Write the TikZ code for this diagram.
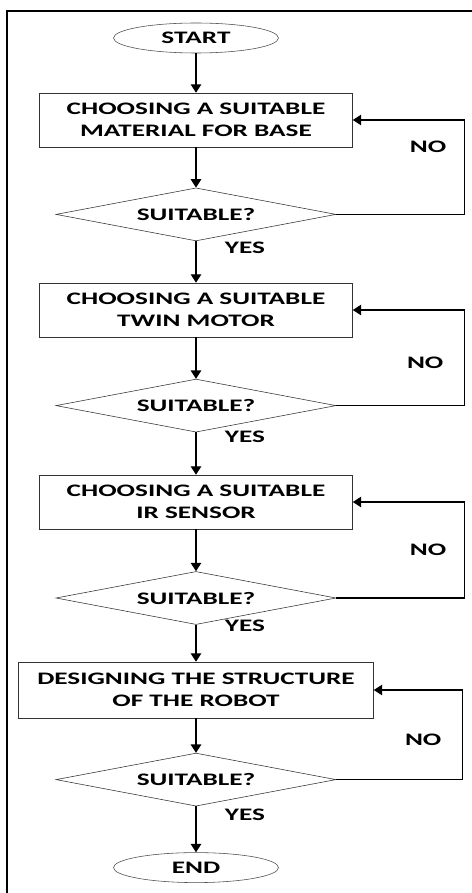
\documentclass[tikz,border=0pt]{standalone}
\usepackage{fontspec}
\setmainfont{Carlito}[FakeStretch=1.55]
\usetikzlibrary{shapes.geometric,arrows.meta}

\begin{document}
\begin{tikzpicture}[every node/.style={font=\bfseries\fontsize{12.5}{15.4}\selectfont}]
      \tikzset{terminal/.style={draw=black!70, ellipse, minimum width=4.125cm, minimum height=.75cm, inner sep=0pt},
               process/.style={draw=black!80, rectangle, minimum width=7.825cm, minimum height=1.35cm, align=center, inner sep=0pt},
               decision/.style={draw=black!80, diamond, aspect=5.28, minimum width=7cm, minimum height=1.325cm, inner sep=0pt},
               flow/.style={->, >={Triangle[width=7.5pt,length=6pt]}, line width=.9pt}}
%% Frame
      	\useasboundingbox (0,0) rectangle (11.775,-22.325);
      	\draw[line width=1.5pt] (0.175,-22.5) -- (0.175,-0.275) -- (12,-0.275);
%% Steps
      	\node[terminal] (start) at (4.9,-0.95) {START};
      	\node[process] (base) at (4.9,-3.0) {CHOOSING A SUITABLE\\MATERIAL FOR BASE};
      	\node[decision] (chk1) at (4.9,-5.36) {SUITABLE?};
      	\node[process] (motor) at (4.9,-7.75) {CHOOSING A SUITABLE\\TWIN MOTOR};
      	\node[decision] (chk2) at (4.9,-10.14) {SUITABLE?};
      	\node[process] (sensor) at (4.9,-12.55) {CHOOSING A SUITABLE\\IR SENSOR};
      	\node[decision] (chk3) at (4.9,-14.95) {SUITABLE?};
      	\node[process, minimum width=8.875cm, minimum height=1.4cm] (robot) at (4.9,-17.25) {DESIGNING THE STRUCTURE\\OF THE ROBOT};
      	\node[decision] (chk4) at (4.9,-19.49) {SUITABLE?};
      	\node[terminal] (end) at (4.9,-21.69) {END};
%% Turning points
      	\coordinate (r1) at (11.62,-3.0);
      	\coordinate (r2) at (11.62,-7.75);
      	\coordinate (r3) at (11.62,-12.55);
      	\coordinate (r4) at (11.57,-17.25);
%Edges
		\path[flow] (start) edge (base);
		\path[flow] (base) edge (chk1);
		\path[flow] (chk1) edge (motor);
		\path[flow] (motor) edge (chk2);
		\path[flow] (chk2) edge (sensor);
		\path[flow] (sensor) edge (chk3);
		\path[flow] (chk3) edge (robot);
		\path[flow] (robot) edge (chk4);
		\path[flow] (chk4) edge (end);
		\draw[flow] (chk1.east) -| (r1) -- (base.east);
		\draw[flow] (chk2.east) -| (r2) -- (motor.east);
		\draw[flow] (chk3.east) -| (r3) -- (sensor.east);
		\draw[flow] (chk4.east) -| (r4) -- (robot.east);
%Labels
		\node (no1) at (10.7,-3.675) {NO};
		\node (no2) at (10.63,-9.08) {NO};
		\node (no3) at (10.7,-13.75) {NO};
		\node (no4) at (10.58,-18.5) {NO};
		\node (yes1) at (6.125,-6.2) {YES};
		\node (yes2) at (6.125,-10.925) {YES};
		\node (yes3) at (6.125,-15.65) {YES};
		\node (yes4) at (6.125,-20.375) {YES};
	\end{tikzpicture}
\end{document}
